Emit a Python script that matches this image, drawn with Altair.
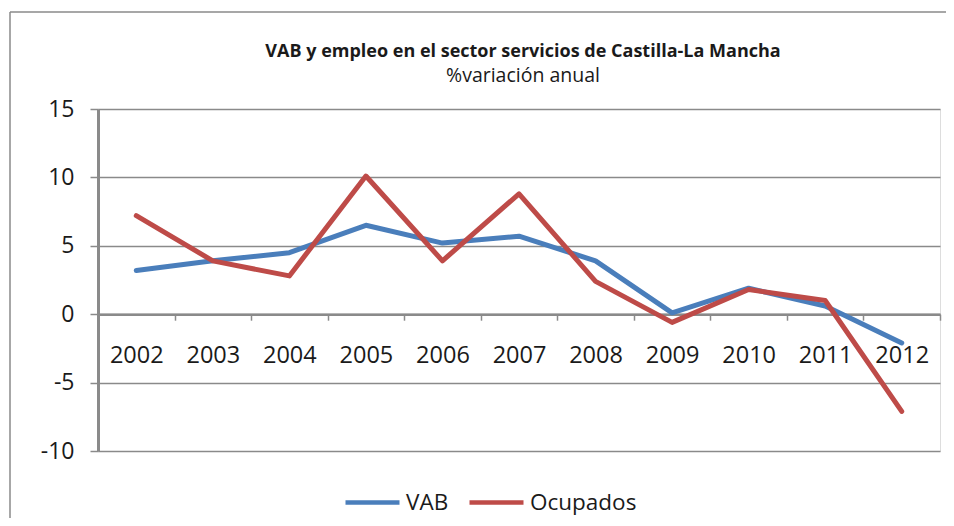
import altair as alt
import pandas as pd

years = ["2002", "2003", "2004", "2005", "2006", "2007", "2008", "2009", "2010", "2011", "2012"]
vab = [3.2, 3.9, 4.5, 6.5, 5.2, 5.7, 3.9, 0.1, 1.9, 0.6, -2.1]
ocupados = [7.2, 3.9, 2.8, 10.1, 3.9, 8.8, 2.4, -0.6, 1.8, 1.0, -7.1]
series_names = ["VAB", "Ocupados"]
series_colors = ["#4a7ebb", "#be4b48"]
y_ticks = [-10, -5, 0, 5, 10, 15]

rows = []
for name, vals in zip(series_names, [vab, ocupados]):
    for yr, v in zip(years, vals):
        rows.append({"year": yr, "value": v, "serie": name})
df = pd.DataFrame(rows)

W, H = 842, 342
ymin, ymax = -10, 15
zero_offset = -H * (0 - ymin) / (ymax - ymin)

FONT = "Open Sans"
GRID = "#8a8a8a"
TXT = "#1a1a1a"

lines = alt.Chart(df).mark_line(strokeWidth=5, strokeCap="round", strokeJoin="round").encode(
    x=alt.X("year:N", sort=years, title=None,
            scale=alt.Scale(paddingInner=0, paddingOuter=0),
            axis=alt.Axis(orient="bottom", offset=zero_offset, labelAngle=0,
                          tickBand="extent", tickSize=6, tickWidth=1.5, tickColor=GRID,
                          domainColor=GRID, domainWidth=2.5,
                          labelFont=FONT, labelFontSize=23.5, labelColor=TXT,
                          labelPadding=23, grid=False)),
    y=alt.Y("value:Q", title=None,
            scale=alt.Scale(domain=[ymin, ymax], nice=False, zero=False),
            axis=alt.Axis(values=y_ticks, tickSize=8, tickWidth=1.5, tickColor=GRID,
                          domainColor=GRID, domainWidth=3,
                          gridColor=GRID, gridWidth=1.5,
                          labelExpr="'' + datum.value",
                          labelFont=FONT, labelFontSize=23, labelColor=TXT,
                          labelPadding=16)),
    color=alt.Color("serie:N", sort=series_names, title=None,
                    scale=alt.Scale(domain=series_names, range=series_colors),
                    legend=alt.Legend(orient="none", legendX=245, legendY=364,
                                      direction="horizontal", symbolType="stroke",
                                      symbolSize=2916, symbolStrokeWidth=4.5,
                                      labelFont=FONT, labelFontSize=22.5, labelColor=TXT,
                                      columnPadding=11, labelOffset=4)),
)

one = pd.DataFrame({"k": [0]})
frame_top = alt.Chart(one).mark_rule(stroke="#8a8a8a", strokeWidth=1.5, clip=False).encode(
    x=alt.value(-88), x2=alt.value(960), y=alt.value(-97)
)
frame_left = alt.Chart(one).mark_rule(stroke="#8a8a8a", strokeWidth=1.5, clip=False).encode(
    x=alt.value(-88), y=alt.value(-97), y2=alt.value(600)
)

chart = alt.layer(frame_top, frame_left, lines).properties(
    width=W, height=H,
    padding={"left": 90, "top": 101, "right": 6, "bottom": 67},
    autosize=alt.AutoSizeParams(type="none"),
    title=alt.TitleParams(
        text="VAB y empleo en el sector servicios de Castilla-La Mancha",
        subtitle="%variación anual",
        font=FONT, fontSize=18, fontWeight="bold", color=TXT,
        subtitleFont=FONT, subtitleFontSize=19.5, subtitleColor=TXT,
        anchor="middle", dx=4, dy=74, offset=0, subtitlePadding=6,
    ),
).configure_view(stroke=None).configure(background="white")

chart.save("out.html", embed_options={"renderer": "svg", "actions": False})
